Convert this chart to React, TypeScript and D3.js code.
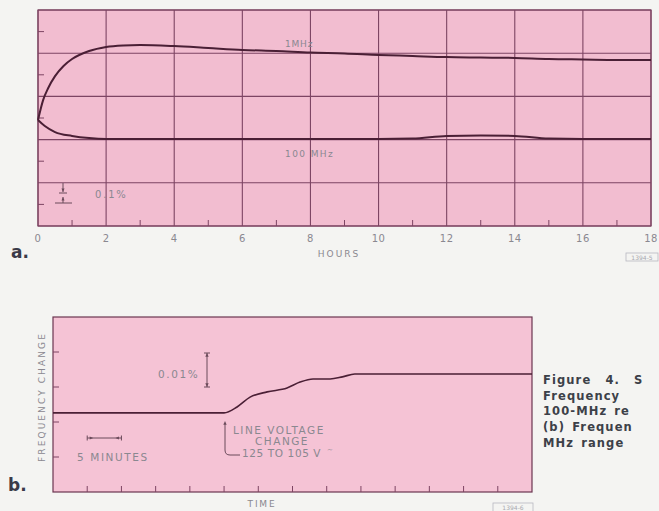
import React from "react";
import * as d3 from "d3";

// ---- Chart a data (hours vs relative frequency, units of % ; 0.1% per minor division)
const hourTicks = [0, 2, 4, 6, 8, 10, 12, 14, 16, 18];
const hoursA = [0, 0.15, 0.3, 0.5, 0.75, 1, 1.5, 2, 2.5, 3, 4, 5, 6, 7, 8, 9, 10, 11, 12, 13, 14, 15, 16, 17, 18];
const mhz1 = [0.491, 0.583, 0.639, 0.694, 0.741, 0.773, 0.81, 0.829, 0.836, 0.838, 0.833, 0.824, 0.815, 0.81, 0.803, 0.799, 0.792, 0.787, 0.782, 0.78, 0.778, 0.773, 0.771, 0.769, 0.769];
const hours100 = [0, 0.2, 0.5, 1, 1.5, 2, 4, 6, 8, 10, 11, 12, 13, 14, 15, 16, 18];
const mhz100 = [0.491, 0.463, 0.435, 0.417, 0.407, 0.403, 0.403, 0.403, 0.403, 0.403, 0.405, 0.417, 0.419, 0.417, 0.405, 0.403, 0.403];

// ---- Chart b data (minutes vs frequency change, units of 0.01%)
const minutesB = [0, 25, 26.9, 28.8, 31.3, 34.2, 36.1, 38, 40.5, 42.3, 44.1, 45.3, 70];
const changeB = [2.26, 2.26, 2.43, 2.71, 2.86, 2.97, 3.14, 3.23, 3.23, 3.29, 3.37, 3.37, 3.37];

const captionLines = ["Figure 4. S", "Frequency", "100-MHz re", "(b) Frequen", "MHz range"];

const FONT = "'DejaVu Sans', Lato, sans-serif";
const GRID = "#7d4563";
const CURVE = "#4a1f35";
const TXT = "#8a8890";
const MARK = "#6a4a5a";

export default function App() {
  const ax = d3.scaleLinear().domain([0, 18]).range([38, 651]);
  const ay = d3.scaleLinear().domain([0, 1.0]).range([226, 10]);
  const bx = d3.scaleLinear().domain([0, 70]).range([53, 532]);
  const by = d3.scaleLinear().domain([0, 5]).range([492, 317]);

  const lineA = d3.line<[number, number]>().x((d) => ax(d[0])).y((d) => ay(d[1])).curve(d3.curveMonotoneX);
  const lineB = d3.line<[number, number]>().x((d) => bx(d[0])).y((d) => by(d[1])).curve(d3.curveMonotoneX);

  const d1 = lineA(hoursA.map((h, i) => [h, mhz1[i]] as [number, number])) || "";
  const d100 = lineA(hours100.map((h, i) => [h, mhz100[i]] as [number, number])) || "";
  const dB = lineB(minutesB.map((m, i) => [m, changeB[i]] as [number, number])) || "";

  const yMajA = d3.range(0, 1.0001, 0.2);
  const yMinA = d3.range(0.1, 1, 0.2);
  const xMinA = d3.range(1, 18, 2);
  const xMinB = d3.range(5, 70, 5);
  const yMinB = [1, 2, 3, 4];

  const arrowHead = (x: number, y: number, dir: "up" | "down" | "left" | "right", s = 3) => {
    let pts: number[][] = [];
    if (dir === "up") pts = [[x, y], [x - s * 0.7, y + s * 1.6], [x + s * 0.7, y + s * 1.6]];
    if (dir === "down") pts = [[x, y], [x - s * 0.7, y - s * 1.6], [x + s * 0.7, y - s * 1.6]];
    if (dir === "left") pts = [[x, y], [x + s * 1.6, y - s * 0.7], [x + s * 1.6, y + s * 0.7]];
    if (dir === "right") pts = [[x, y], [x - s * 1.6, y - s * 0.7], [x - s * 1.6, y + s * 0.7]];
    return <polygon points={pts.map((p) => p.join(",")).join(" ")} fill={MARK} />;
  };

  return (
    <svg
      width={659}
      height={511}
      style={{ position: "absolute", left: 0, top: 0, background: "#f4f4f2" }}
      fontFamily={FONT}
    >
      <rect x={0} y={0} width={659} height={511} fill="#f4f4f2" />

      {/* ---------------- Chart a ---------------- */}
      <rect x={ax(0)} y={ay(1)} width={ax(18) - ax(0)} height={ay(0) - ay(1)} fill="#f2bdd0" />
      {hourTicks.map((h) => (
        <line key={"vg" + h} x1={ax(h)} x2={ax(h)} y1={ay(0)} y2={ay(1)} stroke={GRID} strokeWidth={1.1} />
      ))}
      {yMajA.map((v) => (
        <line key={"hg" + v} x1={ax(0)} x2={ax(18)} y1={ay(v)} y2={ay(v)} stroke={GRID} strokeWidth={1.1} />
      ))}
      {yMinA.map((v) => (
        <line key={"ym" + v} x1={ax(0)} x2={ax(0) + 6} y1={ay(v)} y2={ay(v)} stroke={GRID} strokeWidth={1} />
      ))}
      {xMinA.map((h) => (
        <line key={"xm" + h} x1={ax(h)} x2={ax(h)} y1={ay(0)} y2={ay(0) - 6} stroke={GRID} strokeWidth={1} />
      ))}
      <rect x={ax(0)} y={ay(1)} width={ax(18) - ax(0)} height={ay(0) - ay(1)} fill="none" stroke={GRID} strokeWidth={1.2} />
      <path d={d1} fill="none" stroke={CURVE} strokeWidth={2} />
      <path d={d100} fill="none" stroke={CURVE} strokeWidth={2} />

      <text x={285} y={47} fontSize={9} fill={TXT} letterSpacing={0.8}>1MHz</text>
      <text x={285} y={157} fontSize={9} fill={TXT} letterSpacing={1.4}>100 MHz</text>
      <text x={95} y={198} fontSize={10} fill={TXT} letterSpacing={1.8}>0.1%</text>
      {/* 0.1% marker */}
      <line x1={63} x2={63} y1={183} y2={192} stroke={MARK} strokeWidth={1} />
      {arrowHead(63, 192, "down", 2.2)}
      <line x1={59} x2={67} y1={193} y2={193} stroke={MARK} strokeWidth={1} />
      <line x1={63} x2={63} y1={197} y2={203} stroke={MARK} strokeWidth={1} />
      {arrowHead(63, 197, "up", 2.2)}
      <line x1={55} x2={72} y1={203} y2={203} stroke={MARK} strokeWidth={1} />

      {hourTicks.map((h) => (
        <text key={"xl" + h} x={ax(h)} y={242} fontSize={10} fill={TXT} textAnchor="middle" letterSpacing={0.5}>{h}</text>
      ))}
      <text x={339} y={257} fontSize={9} fill={TXT} textAnchor="middle" letterSpacing={2}>HOURS</text>
      <text x={11} y={258} fontSize={17} fontWeight="bold" fill="#3a3a48">a.</text>
      <rect x={626} y={253} width={32} height={8} fill="none" stroke="#b8b8c0" strokeWidth={0.8} />
      <text x={642} y={259.5} fontSize={6} fill="#a8a8b0" textAnchor="middle">1394-5</text>

      {/* ---------------- Chart b ---------------- */}
      <rect x={bx(0)} y={by(5)} width={bx(70) - bx(0)} height={by(0) - by(5)} fill="#f5c3d5" stroke="#6a3550" strokeWidth={1.2} />
      {yMinB.map((v) => (
        <line key={"bym" + v} x1={bx(0)} x2={bx(0) + 6} y1={by(v)} y2={by(v)} stroke={GRID} strokeWidth={1} />
      ))}
      {xMinB.map((m) => (
        <line key={"bxm" + m} x1={bx(m)} x2={bx(m)} y1={by(0)} y2={by(0) - 6} stroke={GRID} strokeWidth={1} />
      ))}
      <path d={dB} fill="none" stroke={CURVE} strokeWidth={1.6} />

      <text
        x={0}
        y={0}
        transform={`translate(45,397) rotate(-90)`}
        fontSize={9}
        fill={TXT}
        textAnchor="middle"
        letterSpacing={2.1}
      >
        FREQUENCY CHANGE
      </text>

      {/* 0.01% marker */}
      <text x={158} y={378} fontSize={10.5} fill={TXT} letterSpacing={1.6}>0.01%</text>
      <line x1={207} x2={207} y1={353} y2={387} stroke={MARK} strokeWidth={1} />
      {arrowHead(207, 353, "up", 2.4)}
      {arrowHead(207, 387, "down", 2.4)}
      <line x1={204} x2={210} y1={353} y2={353} stroke={MARK} strokeWidth={1} />
      <line x1={204} x2={210} y1={387} y2={387} stroke={MARK} strokeWidth={1} />

      {/* 5 minutes marker */}
      <line x1={bx(5)} x2={bx(10)} y1={438} y2={438} stroke={MARK} strokeWidth={1} />
      {arrowHead(bx(5) + 6, 438, "right", 2.2)}
      {arrowHead(bx(10) - 6, 438, "left", 2.2)}
      <line x1={bx(5)} x2={bx(5)} y1={435.5} y2={440.5} stroke={MARK} strokeWidth={1} />
      <line x1={bx(10)} x2={bx(10)} y1={435.5} y2={440.5} stroke={MARK} strokeWidth={1} />
      <text x={77} y={461} fontSize={10.5} fill={TXT} letterSpacing={1.6}>5 MINUTES</text>

      {/* line voltage pointer */}
      <path d="M225,424 L225,450 Q225,455 230,455 L240,455" fill="none" stroke={MARK} strokeWidth={1} />
      {arrowHead(225, 421, "up", 2.4)}
      <text x={233} y={434} fontSize={10.5} fill={TXT} letterSpacing={1.5}>LINE VOLTAGE</text>
      <text x={282} y={445} fontSize={10.5} fill={TXT} textAnchor="middle" letterSpacing={1.5}>CHANGE</text>
      <text x={242} y={457} fontSize={10.5} fill={TXT} letterSpacing={0.6}>125 TO 105 V</text>
      <text x={327} y={452} fontSize={7} fill={TXT}>~</text>

      <text x={262} y={507} fontSize={9} fill={TXT} textAnchor="middle" letterSpacing={1.8}>TIME</text>
      <text x={8} y={491} fontSize={17} fontWeight="bold" fill="#3a3a48">b.</text>
      <rect x={493} y={503} width={40} height={9} fill="none" stroke="#b8b8c0" strokeWidth={0.8} />
      <text x={513} y={510} fontSize={6} fill="#a8a8b0" textAnchor="middle">1394-6</text>

      {/* caption (cut off at page edge) */}
      {captionLines.map((t, i) => (
        <text key={"cap" + i} x={543} y={384 + i * 15.7} fontSize={11.5} fontWeight="bold" fill="#3c4048"
          letterSpacing={1.1} wordSpacing={i === 0 ? 9 : 2}>
          {t}
        </text>
      ))}
    </svg>
  );
}
